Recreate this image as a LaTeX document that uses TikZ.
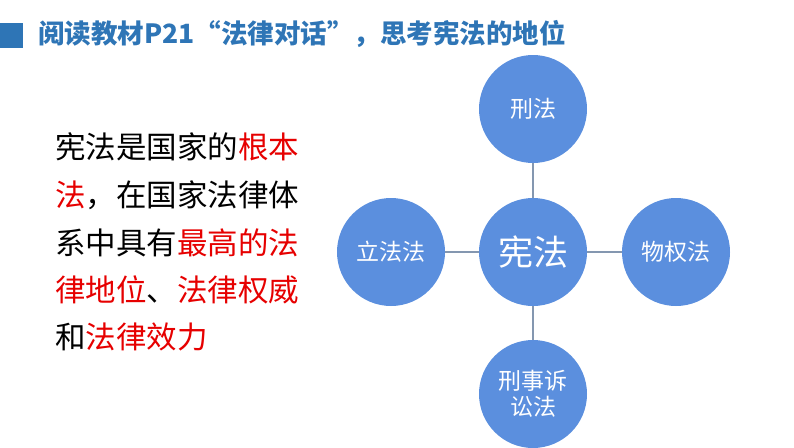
\documentclass[tikz,border=0pt]{standalone}
\usepackage{fontspec}
\setmainfont{Noto Sans CJK SC}
\newfontfamily\cjk{Noto Sans CJK SC}
\definecolor{titleblue}{RGB}{46,117,182}
\definecolor{circblue}{RGB}{91,143,222}
\definecolor{linegray}{RGB}{132,151,176}
\definecolor{hired}{RGB}{230,0,0}
\begin{document}
\begin{tikzpicture}[x=1pt,y=-1pt,
  lawcirc/.style={circle,fill=circblue,minimum size=108pt,inner sep=0pt,text=white,font=\cjk\fontsize{23}{27}\selectfont,align=center},
  link/.style={draw=linegray,line width=1.5pt},
  bodyline/.style={anchor=west,inner sep=0pt,font=\cjk\fontsize{30.5}{36}\selectfont}]
\useasboundingbox (0,0) rectangle (794,447);
% title
\node[fill=titleblue,minimum width=23pt,minimum height=25pt,inner sep=0pt] (sq) at (11.5,35) {};
\node[anchor=west,inner sep=0pt,text=titleblue,font=\cjk\bfseries\fontsize{26.5}{30}\selectfont] (title) at (38,34) {阅读教材P21“法律对话”，思考宪法的地位};
% left text
\node[bodyline] (l1) at (55,147) {宪法是国家的\textcolor{hired}{根本}};
\node[bodyline] (l2) at (55,195) {\textcolor{hired}{法}，在国家法律体};
\node[bodyline] (l3) at (55,243) {系中具有\textcolor{hired}{最高的法}};
\node[bodyline] (l4) at (55,290) {\textcolor{hired}{律地位}、\textcolor{hired}{法律权威}};
\node[bodyline] (l5) at (55,337) {和\textcolor{hired}{法律效力}};
% circles
\node[lawcirc] (top) at (533,109) {刑法};
\node[lawcirc,font=\cjk\fontsize{35}{40}\selectfont] (mid) at (533,252) {宪法};
\node[lawcirc] (left) at (391,252) {立法法};
\node[lawcirc] (right) at (676,252) {物权法};
\node[lawcirc,font=\cjk\fontsize{23}{26}\selectfont] (bot) at (533,394) {刑事诉\\讼法};
\draw[link] (top) -- (mid);
\draw[link] (left) -- (mid);
\draw[link] (mid) -- (right);
\draw[link] (mid) -- (bot);
\end{tikzpicture}
\end{document}
